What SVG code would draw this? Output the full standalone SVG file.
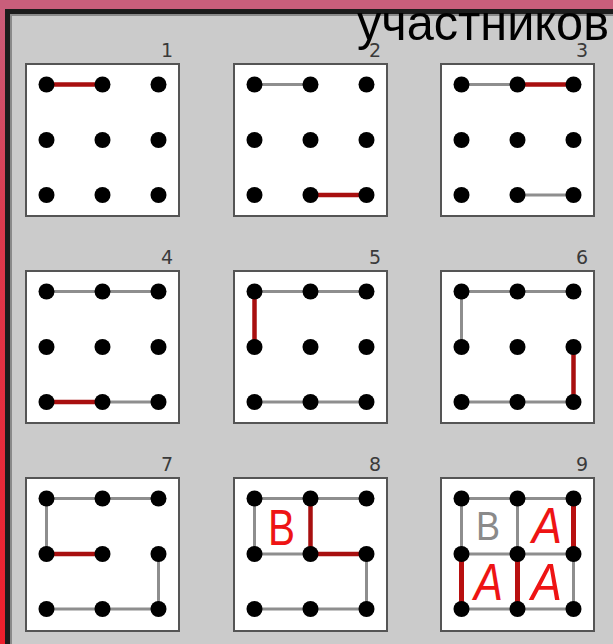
<svg xmlns="http://www.w3.org/2000/svg" xmlns:xlink="http://www.w3.org/1999/xlink" width="613" height="644" viewBox="0 0 613 644">
<defs>
<linearGradient id="side" x1="0" y1="0" x2="0" y2="1">
<stop offset="0" stop-color="#c95e7b"/>
<stop offset="0.35" stop-color="#dc3a4e"/>
<stop offset="1" stop-color="#ee1f2c"/>
</linearGradient>
<circle id="d" r="8" fill="#000"/>
</defs>
<style>
.panel{fill:#fff;stroke:#555;stroke-width:2}
.num{font-family:"DejaVu Sans",sans-serif;font-size:19px;fill:#3a3a3a;text-anchor:end}
.g{stroke:#8e8e8e;stroke-width:3;stroke-linecap:round}
.r{stroke:#a80f0f;stroke-width:4.5;stroke-linecap:round}
.r9{stroke:#b81010;stroke-width:5;stroke-linecap:round}
.let{font-family:"Liberation Sans",Arial,sans-serif}
</style>
<rect x="0" y="0" width="613" height="644" fill="url(#side)"/>
<rect x="0" y="0" width="613" height="10" fill="#c95e7b"/>
<rect x="5" y="9" width="608" height="635" fill="#1c1c1c"/>
<rect x="10" y="14" width="603" height="630" fill="#8a8a8a"/>
<rect x="12" y="16" width="601" height="628" fill="#cbcbcb"/>
<text x="357" y="40" font-family="Liberation Sans,Arial,sans-serif" font-size="50" fill="#000" textLength="252" lengthAdjust="spacingAndGlyphs">участников</text>

<g id="panel-1"><rect class="panel" x="26" y="64" width="153" height="152"/><text class="num" x="173" y="57">1</text></g>
<g id="panel-2"><rect class="panel" x="234" y="64" width="153" height="152"/><text class="num" x="381" y="57">2</text></g>
<g id="panel-3"><rect class="panel" x="441" y="64" width="153" height="152"/><text class="num" x="588" y="57">3</text></g>
<g id="panel-4"><rect class="panel" x="26" y="271" width="153" height="152"/><text class="num" x="173" y="264">4</text></g>
<g id="panel-5"><rect class="panel" x="234" y="271" width="153" height="152"/><text class="num" x="381" y="264">5</text></g>
<g id="panel-6"><rect class="panel" x="441" y="271" width="153" height="152"/><text class="num" x="588" y="264">6</text></g>
<g id="panel-7"><rect class="panel" x="26" y="478" width="153" height="153"/><text class="num" x="173" y="471">7</text></g>
<g id="panel-8"><rect class="panel" x="234" y="478" width="153" height="153"/><text class="num" x="381" y="471">8</text></g>
<g id="panel-9"><rect class="panel" x="441" y="478" width="153" height="153"/><text class="num" x="588" y="471">9</text></g>

<g id="connectors">
<line class="r" x1="46.5" y1="84.5" x2="102.5" y2="84.5"/>

<line class="g" x1="254.5" y1="84.5" x2="310.5" y2="84.5"/>
<line class="r" x1="310.5" y1="195" x2="366.5" y2="195"/>

<line class="g" x1="461.5" y1="84.5" x2="517.5" y2="84.5"/>
<line class="r" x1="517.5" y1="84.5" x2="573.5" y2="84.5"/>
<line class="g" x1="517.5" y1="195" x2="573.5" y2="195"/>

<line class="g" x1="46.5" y1="291.5" x2="158.5" y2="291.5"/>
<line class="r" x1="46.5" y1="402" x2="102.5" y2="402"/>
<line class="g" x1="102.5" y1="402" x2="158.5" y2="402"/>

<line class="g" x1="254.5" y1="291.5" x2="366.5" y2="291.5"/>
<line class="r" x1="254.5" y1="291.5" x2="254.5" y2="347"/>
<line class="g" x1="254.5" y1="402" x2="366.5" y2="402"/>

<line class="g" x1="461.5" y1="291.5" x2="573.5" y2="291.5"/>
<line class="g" x1="461.5" y1="291.5" x2="461.5" y2="347"/>
<line class="r" x1="573.5" y1="347" x2="573.5" y2="402"/>
<line class="g" x1="461.5" y1="402" x2="573.5" y2="402"/>

<line class="g" x1="46.5" y1="498.5" x2="158.5" y2="498.5"/>
<line class="g" x1="46.5" y1="498.5" x2="46.5" y2="554"/>
<line class="r" x1="46.5" y1="554" x2="102.5" y2="554"/>
<line class="g" x1="158.5" y1="554" x2="158.5" y2="609"/>
<line class="g" x1="46.5" y1="609" x2="158.5" y2="609"/>

<line class="g" x1="254.5" y1="498.5" x2="366.5" y2="498.5"/>
<line class="g" x1="254.5" y1="498.5" x2="254.5" y2="554"/>
<line class="g" x1="254.5" y1="554" x2="310.5" y2="554"/>
<line class="r" x1="310.5" y1="498.5" x2="310.5" y2="554"/>
<line class="r" x1="310.5" y1="554" x2="366.5" y2="554"/>
<line class="g" x1="366.5" y1="554" x2="366.5" y2="609"/>
<line class="g" x1="254.5" y1="609" x2="366.5" y2="609"/>

<line class="g" x1="461.5" y1="498.5" x2="573.5" y2="498.5"/>
<line class="g" x1="461.5" y1="554" x2="573.5" y2="554"/>
<line class="g" x1="461.5" y1="609" x2="573.5" y2="609"/>
<line class="g" x1="461.5" y1="498.5" x2="461.5" y2="554"/>
<line class="g" x1="517.5" y1="498.5" x2="517.5" y2="554"/>
<line class="g" x1="573.5" y1="554" x2="573.5" y2="609"/>
<line class="r9" x1="573.5" y1="498.5" x2="573.5" y2="554"/>
<line class="r9" x1="461.5" y1="554" x2="461.5" y2="609"/>
<line class="r9" x1="517.5" y1="554" x2="517.5" y2="609"/>
</g>

<g id="letters">
<text class="let" x="268" y="545" font-size="50" fill="#ee1414" textLength="27" lengthAdjust="spacingAndGlyphs">B</text>
<text class="let" x="476" y="540" font-size="41" fill="#8a8a8a" textLength="24" lengthAdjust="spacingAndGlyphs">B</text>
<text class="let" x="532" y="543" font-size="50" font-style="italic" fill="#ee1414" textLength="30" lengthAdjust="spacingAndGlyphs">A</text>
<text class="let" x="474" y="600" font-size="52" font-style="italic" fill="#ee1414" textLength="29" lengthAdjust="spacingAndGlyphs">A</text>
<text class="let" x="531" y="600" font-size="52" font-style="italic" fill="#ee1414" textLength="31" lengthAdjust="spacingAndGlyphs">A</text>
</g>

<g id="dots-1"><use href="#d" x="46.5" y="84.5"/><use href="#d" x="102.5" y="84.5"/><use href="#d" x="158.5" y="84.5"/><use href="#d" x="46.5" y="140"/><use href="#d" x="102.5" y="140"/><use href="#d" x="158.5" y="140"/><use href="#d" x="46.5" y="195"/><use href="#d" x="102.5" y="195"/><use href="#d" x="158.5" y="195"/></g>
<g id="dots-2"><use href="#d" x="254.5" y="84.5"/><use href="#d" x="310.5" y="84.5"/><use href="#d" x="366.5" y="84.5"/><use href="#d" x="254.5" y="140"/><use href="#d" x="310.5" y="140"/><use href="#d" x="366.5" y="140"/><use href="#d" x="254.5" y="195"/><use href="#d" x="310.5" y="195"/><use href="#d" x="366.5" y="195"/></g>
<g id="dots-3"><use href="#d" x="461.5" y="84.5"/><use href="#d" x="517.5" y="84.5"/><use href="#d" x="573.5" y="84.5"/><use href="#d" x="461.5" y="140"/><use href="#d" x="517.5" y="140"/><use href="#d" x="573.5" y="140"/><use href="#d" x="461.5" y="195"/><use href="#d" x="517.5" y="195"/><use href="#d" x="573.5" y="195"/></g>
<g id="dots-4"><use href="#d" x="46.5" y="291.5"/><use href="#d" x="102.5" y="291.5"/><use href="#d" x="158.5" y="291.5"/><use href="#d" x="46.5" y="347"/><use href="#d" x="102.5" y="347"/><use href="#d" x="158.5" y="347"/><use href="#d" x="46.5" y="402"/><use href="#d" x="102.5" y="402"/><use href="#d" x="158.5" y="402"/></g>
<g id="dots-5"><use href="#d" x="254.5" y="291.5"/><use href="#d" x="310.5" y="291.5"/><use href="#d" x="366.5" y="291.5"/><use href="#d" x="254.5" y="347"/><use href="#d" x="310.5" y="347"/><use href="#d" x="366.5" y="347"/><use href="#d" x="254.5" y="402"/><use href="#d" x="310.5" y="402"/><use href="#d" x="366.5" y="402"/></g>
<g id="dots-6"><use href="#d" x="461.5" y="291.5"/><use href="#d" x="517.5" y="291.5"/><use href="#d" x="573.5" y="291.5"/><use href="#d" x="461.5" y="347"/><use href="#d" x="517.5" y="347"/><use href="#d" x="573.5" y="347"/><use href="#d" x="461.5" y="402"/><use href="#d" x="517.5" y="402"/><use href="#d" x="573.5" y="402"/></g>
<g id="dots-7"><use href="#d" x="46.5" y="498.5"/><use href="#d" x="102.5" y="498.5"/><use href="#d" x="158.5" y="498.5"/><use href="#d" x="46.5" y="554"/><use href="#d" x="102.5" y="554"/><use href="#d" x="158.5" y="554"/><use href="#d" x="46.5" y="609"/><use href="#d" x="102.5" y="609"/><use href="#d" x="158.5" y="609"/></g>
<g id="dots-8"><use href="#d" x="254.5" y="498.5"/><use href="#d" x="310.5" y="498.5"/><use href="#d" x="366.5" y="498.5"/><use href="#d" x="254.5" y="554"/><use href="#d" x="310.5" y="554"/><use href="#d" x="366.5" y="554"/><use href="#d" x="254.5" y="609"/><use href="#d" x="310.5" y="609"/><use href="#d" x="366.5" y="609"/></g>
<g id="dots-9"><use href="#d" x="461.5" y="498.5"/><use href="#d" x="517.5" y="498.5"/><use href="#d" x="573.5" y="498.5"/><use href="#d" x="461.5" y="554"/><use href="#d" x="517.5" y="554"/><use href="#d" x="573.5" y="554"/><use href="#d" x="461.5" y="609"/><use href="#d" x="517.5" y="609"/><use href="#d" x="573.5" y="609"/></g>
</svg>
